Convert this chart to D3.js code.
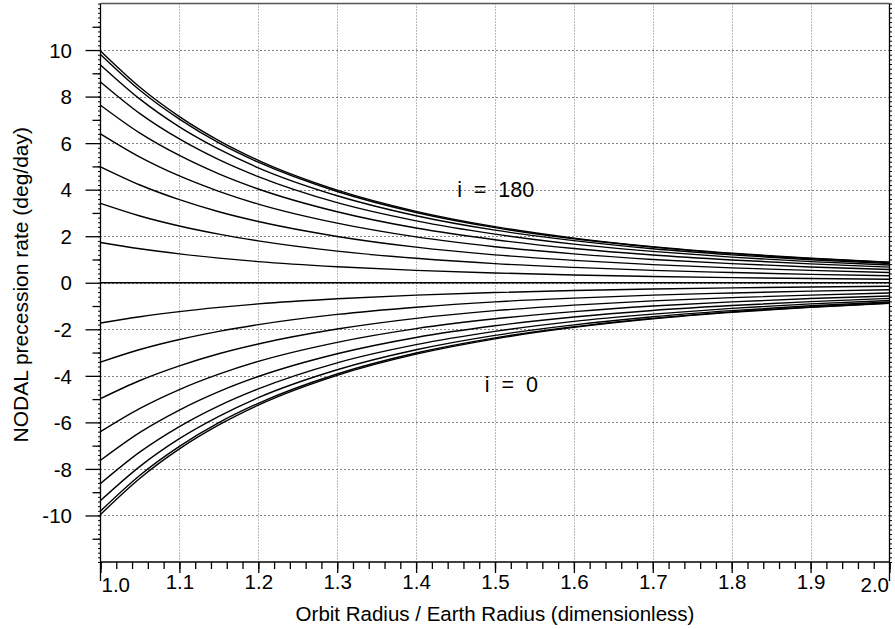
<!DOCTYPE html>
<html>
<head>
<meta charset="utf-8">
<script src="https://cdn.jsdelivr.net/npm/d3@7"></script>
<style>
  body { margin: 0; background: #fff; }
  text { font-family: 'Liberation Sans', Arial, Helvetica, sans-serif; fill: #000; }
</style>
</head>
<body>
<svg id="chart" width="895" height="629"></svg>
<script>
/* Nodal precession rate vs orbit radius, one curve per inclination (0..180 deg) */

// x positions (orbit radius / earth radius) where the curves were read
const radius = [1.0, 1.05, 1.1, 1.15, 1.2, 1.3, 1.4, 1.5, 1.6, 1.7, 1.8, 1.9, 2.0];

// precession rate (deg/day), one array per inclination
const rateI0   = [-9.96, -8.40, -7.14, -6.11, -5.26, -3.98, -3.07, -2.41, -1.92, -1.55, -1.27, -1.05, -0.88];
const rateI10  = [-9.81, -8.27, -7.03, -6.01, -5.18, -3.92, -3.02, -2.37, -1.89, -1.53, -1.25, -1.04, -0.87];
const rateI20  = [-9.36, -7.89, -6.70, -5.74, -4.94, -3.74, -2.88, -2.26, -1.81, -1.46, -1.20, -0.99, -0.83];
const rateI30  = [-8.63, -7.27, -6.18, -5.29, -4.56, -3.44, -2.66, -2.09, -1.66, -1.35, -1.10, -0.91, -0.76];
const rateI40  = [-7.63, -6.43, -5.47, -4.68, -4.03, -3.05, -2.35, -1.85, -1.47, -1.19, -0.98, -0.81, -0.67];
const rateI50  = [-6.40, -5.40, -4.59, -3.93, -3.38, -2.56, -1.97, -1.55, -1.24, -1.00, -0.82, -0.68, -0.57];
const rateI60  = [-4.98, -4.20, -3.57, -3.05, -2.63, -1.99, -1.53, -1.20, -0.96, -0.78, -0.64, -0.53, -0.44];
const rateI70  = [-3.41, -2.87, -2.44, -2.09, -1.80, -1.36, -1.05, -0.82, -0.66, -0.53, -0.44, -0.36, -0.30];
const rateI80  = [-1.73, -1.46, -1.24, -1.06, -0.91, -0.69, -0.53, -0.42, -0.33, -0.27, -0.22, -0.18, -0.15];
const rateI90  = [0, 0, 0, 0, 0, 0, 0, 0, 0, 0, 0, 0, 0];
const rateI100 = [1.73, 1.46, 1.24, 1.06, 0.91, 0.69, 0.53, 0.42, 0.33, 0.27, 0.22, 0.18, 0.15];
const rateI110 = [3.41, 2.87, 2.44, 2.09, 1.80, 1.36, 1.05, 0.82, 0.66, 0.53, 0.44, 0.36, 0.30];
const rateI120 = [4.98, 4.20, 3.57, 3.05, 2.63, 1.99, 1.53, 1.20, 0.96, 0.78, 0.64, 0.53, 0.44];
const rateI130 = [6.40, 5.40, 4.59, 3.93, 3.38, 2.56, 1.97, 1.55, 1.24, 1.00, 0.82, 0.68, 0.57];
const rateI140 = [7.63, 6.43, 5.47, 4.68, 4.03, 3.05, 2.35, 1.85, 1.47, 1.19, 0.98, 0.81, 0.67];
const rateI150 = [8.63, 7.27, 6.18, 5.29, 4.56, 3.44, 2.66, 2.09, 1.66, 1.35, 1.10, 0.91, 0.76];
const rateI160 = [9.36, 7.89, 6.70, 5.74, 4.94, 3.74, 2.88, 2.26, 1.81, 1.46, 1.20, 0.99, 0.83];
const rateI170 = [9.81, 8.27, 7.03, 6.01, 5.18, 3.92, 3.02, 2.37, 1.89, 1.53, 1.25, 1.04, 0.87];
const rateI180 = [9.96, 8.40, 7.14, 6.11, 5.26, 3.98, 3.07, 2.41, 1.92, 1.55, 1.27, 1.05, 0.88];

const inclinations = [0, 10, 20, 30, 40, 50, 60, 70, 80, 90, 100, 110, 120, 130, 140, 150, 160, 170, 180];
const seriesValues = [rateI0, rateI10, rateI20, rateI30, rateI40, rateI50, rateI60, rateI70, rateI80, rateI90,
                      rateI100, rateI110, rateI120, rateI130, rateI140, rateI150, rateI160, rateI170, rateI180];

const xTicks = [1.0, 1.1, 1.2, 1.3, 1.4, 1.5, 1.6, 1.7, 1.8, 1.9, 2.0];
const yTicks = [-10, -8, -6, -4, -2, 0, 2, 4, 6, 8, 10];
const xLabel = 'Orbit Radius / Earth Radius (dimensionless)';
const yLabel = 'NODAL precession rate (deg/day)';

const svg = d3.select('#chart');
const L = 100.5, R = 889.5, T = 3.5, B = 562;

const x = d3.scaleLinear().domain([1, 2]).range([L, R]);
const y = d3.scaleLinear().domain([-12, 12]).range([B, T]);

// ---- grid (snapped to pixel centres so the dots stay crisp) ----
const grid = svg.append('g');
grid.selectAll('.hgrid')
  .data(yTicks)
  .enter().append('line')
  .attr('x1', L).attr('x2', R)
  .attr('y1', d => Math.round(y(d)) + 0.5).attr('y2', d => Math.round(y(d)) + 0.5)
  .attr('stroke', '#000').attr('stroke-width', 1)
  .attr('stroke-dasharray', '1,3');
grid.selectAll('.vgrid')
  .data(xTicks.slice(1, -1))
  .enter().append('line')
  .attr('x1', d => Math.round(x(d)) + 0.5).attr('x2', d => Math.round(x(d)) + 0.5)
  .attr('y1', T).attr('y2', B)
  .attr('stroke', '#777').attr('stroke-width', 1)
  .attr('stroke-dasharray', '1,2');

// ---- curves ----
const line = d3.line()
  .x(d => x(d[0]))
  .y(d => y(d[1]))
  .curve(d3.curveMonotoneX);

svg.append('g').selectAll('path')
  .data(seriesValues.map(vals => radius.map((r, i) => [r, vals[i]])))
  .enter().append('path')
  .attr('d', line)
  .attr('fill', 'none')
  .attr('stroke', '#000')
  .attr('stroke-width', 1.4);

// ---- axes ----
function styleAxis(g) {
  g.select('.domain').remove();
  g.selectAll('line').attr('stroke', '#000').attr('stroke-width', 1.3);
}

// x: minor ticks every 0.02, major every 0.1
svg.append('g')
  .attr('transform', `translate(0,${B})`)
  .call(d3.axisBottom(x).tickValues(d3.range(1, 2.001, 0.02)).tickSize(7).tickFormat(''))
  .call(styleAxis);
const xAxis = svg.append('g')
  .attr('transform', `translate(0,${B})`)
  .call(d3.axisBottom(x).tickValues(xTicks).tickSize(11).tickFormat(d3.format('.1f')))
  .call(styleAxis);
xAxis.selectAll('text')
  .attr('y', 27).attr('dy', 0)
  .style('font-size', '20.5px');
xAxis.selectAll('.tick').filter(d => d === 1.0).select('text')
  .attr('text-anchor', 'start').attr('x', 0.5).attr('y', 30);
xAxis.selectAll('.tick').filter(d => d === 2.0).select('text')
  .attr('text-anchor', 'end').attr('x', -1).attr('y', 30);

// y: tiny ticks every 0.2 (both edges), minor every 1, major every 2
svg.append('g')
  .attr('transform', `translate(${L},0)`)
  .call(d3.axisLeft(y).tickValues(d3.range(-12, 12.001, 0.2)).tickSize(2.5).tickFormat(''))
  .call(styleAxis)
  .selectAll('line').attr('stroke-width', 1);
svg.append('g')
  .attr('transform', `translate(${R},0)`)
  .call(d3.axisRight(y).tickValues(d3.range(-12, 12.001, 0.2)).tickSize(2.5).tickFormat(''))
  .call(styleAxis)
  .selectAll('line').attr('stroke-width', 1);
svg.append('g')
  .attr('transform', `translate(${L},0)`)
  .call(d3.axisLeft(y).tickValues(d3.range(-11, 12, 2)).tickSize(8).tickFormat(''))
  .call(styleAxis);
const yAxis = svg.append('g')
  .attr('transform', `translate(${L},0)`)
  .call(d3.axisLeft(y).tickValues(yTicks).tickSize(15).tickFormat(d => String(d)))
  .call(styleAxis);
yAxis.selectAll('text')
  .attr('x', -28.5).attr('dy', '0.35em')
  .style('font-size', '20.5px');

// ---- frame ----
const frame = svg.append('g').attr('stroke', '#000').attr('stroke-width', 1.3);
frame.append('line').attr('x1', L).attr('x2', L).attr('y1', T).attr('y2', 581);
frame.append('line').attr('x1', R).attr('x2', R).attr('y1', T).attr('y2', 581);
frame.append('line').attr('x1', L).attr('x2', R).attr('y1', B).attr('y2', B);
frame.append('line').attr('x1', L).attr('x2', R).attr('y1', T).attr('y2', T).attr('stroke', '#555');

// ---- curve annotations ----
svg.append('text')
  .attr('x', x(1.452)).attr('y', y(3.67))
  .style('font-size', '21.5px').style('white-space', 'pre')
  .text('i  =  180');
svg.append('text')
  .attr('x', x(1.487)).attr('y', y(-4.70))
  .style('font-size', '21.5px').style('white-space', 'pre')
  .text('i  =  0');

// ---- axis titles ----
svg.append('text')
  .attr('x', (L + R) / 2).attr('y', 621)
  .attr('text-anchor', 'middle')
  .style('font-size', '20.5px')
  .text(xLabel);
svg.append('text')
  .attr('transform', `translate(28,${(T + B) / 2 + 2}) rotate(-90)`)
  .attr('text-anchor', 'middle')
  .style('font-size', '21px')
  .text(yLabel);
</script>
</body>
</html>
